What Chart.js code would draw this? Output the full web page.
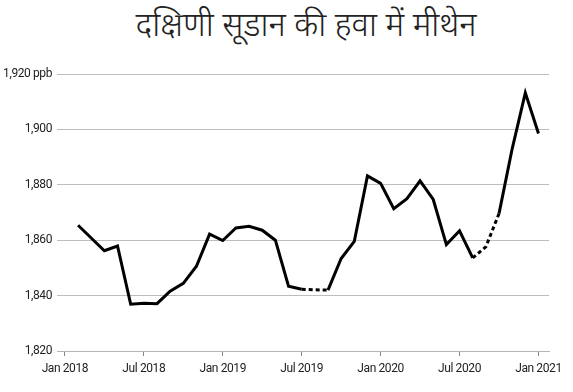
<!DOCTYPE html>
<html lang="hi">
<head>
    <meta charset="UTF-8">
    <title>दक्षिणी सूडान की हवा में मीथेन</title>
    <script src="https://cdn.jsdelivr.net/npm/chart.js@4.4.1/dist/chart.umd.min.js"></script>
    <style>
        body { margin: 0; background: #fff; }
        .wrap { position: relative; width: 573px; height: 392px; }
        .title {
            position: absolute; left: 0; top: 6px; width: 612px;
            text-align: center; font-family: "Noto Sans Devanagari", "Noto Sans", "Lohit Devanagari", sans-serif;
            font-size: 33px; font-weight: 300; color: #222; line-height: 44px;
        }
        canvas { position: absolute; left: 0; top: 0; }
    </style>
</head>
<body>
<div class="wrap">
    <div class="title">दक्षिणी सूडान की हवा में मीथेन</div>
    <canvas id="myChart" width="573" height="392"></canvas>
</div>
<script>
    // monthly values, Feb 2018 .. Jan 2021 (ppb)
    var months = ['2018-02','2018-03','2018-04','2018-05','2018-06','2018-07','2018-08','2018-09','2018-10','2018-11','2018-12',
                  '2019-01','2019-02','2019-03','2019-04','2019-05','2019-06','2019-07','2019-08','2019-09','2019-10','2019-11','2019-12',
                  '2020-01','2020-02','2020-03','2020-04','2020-05','2020-06','2020-07','2020-08','2020-09','2020-10','2020-11','2020-12',
                  '2021-01'];
    var methane = [1865.4, 1860.8, 1856.2, 1857.9, 1836.9, 1837.2, 1837.1, 1841.6, 1844.4, 1850.6, 1862.2,
                   1859.9, 1864.4, 1865.0, 1863.6, 1860.0, 1843.4, 1842.3, 1842.1, 1842.0, 1853.4, 1859.6, 1883.2,
                   1880.5, 1871.4, 1875.0, 1881.4, 1874.7, 1858.4, 1863.4, 1853.6, 1857.6, 1869.6, 1893.0, 1913.2,
                   1898.5];
    // segments drawn dashed (starting month)
    var dashedFrom = ['2019-07', '2019-08', '2020-08', '2020-09'];

    var xTickLabels = ['Jan 2018', 'Jul 2018', 'Jan 2019', 'Jul 2019', 'Jan 2020', 'Jul 2020', 'Jan 2021'];
    var yTicks = [1820, 1840, 1860, 1880, 1900, 1920];
    var yTickLabels = ['1,820', '1,840', '1,860', '1,880', '1,900', '1,920 ppb'];

    function monthIndex(m) {
        var p = m.split('-');
        return (parseInt(p[0]) - 2018) * 12 + parseInt(p[1]) - 1;
    }

    var points = months.map(function (m, i) { return { x: monthIndex(m), y: methane[i] }; });

    var tickFont = { family: "Roboto, sans-serif", size: 12 };

    // tick labels in the original are a bit condensed
    var tightText = {
        id: 'tightText',
        beforeDraw: function (chart) { chart.ctx.letterSpacing = '-0.4px'; }
    };

    var ctx = document.getElementById('myChart').getContext('2d');
    var myChart = new Chart(ctx, {
        type: 'line',
        data: {
            datasets: [{
                data: points,
                borderColor: '#000',
                borderWidth: 3,
                pointRadius: 0,
                tension: 0,
                fill: false,
                segment: {
                    borderDash: function (c) {
                        return dashedFrom.indexOf(months[c.p0DataIndex]) >= 0 ? [4, 3] : undefined;
                    }
                }
            }]
        },
        options: {
            responsive: false,
            animation: false,
            layout: { padding: { top: 74, right: 24, left: 0, bottom: 0 } },
            plugins: { legend: { display: false }, tooltip: { enabled: false } },
            scales: {
                x: {
                    type: 'linear',
                    min: -0.6,
                    max: 36.8,
                    afterBuildTicks: function (axis) {
                        axis.ticks = xTickLabels.map(function (l, i) { return { value: i * 6 }; });
                    },
                    afterFit: function (axis) { axis.height = 41; },
                    ticks: {
                        autoSkip: false, maxRotation: 0, padding: 6, color: '#222', font: tickFont,
                        callback: function (v) { return xTickLabels[v / 6]; }
                    },
                    grid: { drawOnChartArea: false, drawTicks: true, tickLength: 5, color: '#888' },
                    border: { display: true, color: '#b5b5b5', width: 1 }
                },
                y: {
                    min: 1820,
                    max: 1920,
                    afterBuildTicks: function (axis) {
                        axis.ticks = yTicks.map(function (v) { return { value: v }; });
                    },
                    afterFit: function (axis) { axis.width = 57; },
                    ticks: {
                        padding: 5, color: '#222', font: tickFont,
                        callback: function (v) { return yTickLabels[yTicks.indexOf(v)]; }
                    },
                    grid: { color: '#bdbdbd', drawTicks: false },
                    border: { display: false }
                }
            }
        },
        plugins: [tightText]
    });
</script>
</body>
</html>
